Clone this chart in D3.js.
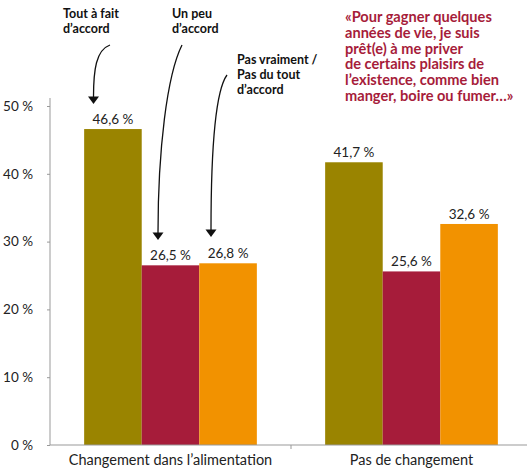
<!DOCTYPE html>
<html>
<head>
<meta charset="utf-8">
<script src="https://cdn.jsdelivr.net/npm/d3@7"></script>
<style>
  body { margin: 0; background: #fff; }
  svg { font-family: Lato, "Open Sans", sans-serif; }
</style>
</head>
<body>
<svg id="chart" width="527" height="470"></svg>
<script>
// data
var categories = ["Changement dans l\u2019alimentation", "Pas de changement"];
var series = ["Tout \u00e0 fait d\u2019accord", "Un peu d\u2019accord", "Pas vraiment / Pas du tout d\u2019accord"];
var toutAFait = [46.6, 41.7];
var unPeu = [26.5, 25.6];
var pasVraiment = [26.8, 32.6];
var yTicks = [0, 10, 20, 30, 40, 50];
var colors = ["#9a8400", "#a61c3a", "#f29200"];

var quote = [
  "\u00abPour gagner quelques",
  "ann\u00e9es de vie, je suis",
  "pr\u00eat(e) \u00e0 me priver",
  "de certains plaisirs de",
  "l\u2019existence, comme bien",
  "manger, boire ou fumer\u2026\u00bb"
];

var svg = d3.select("#chart");
var w = 527;

var values = [toutAFait, unPeu, pasVraiment];

var x = d3.scaleBand().domain(categories).range([50, 532]).padding(0);
var groupW = 172.7;
var xs = d3.scaleBand().domain(series).range([0, groupW]).padding(0);
var y = d3.scaleLinear().domain([0, 50]).range([445, 106]);

// y axis
var yAxis = d3.axisLeft(y).tickValues(yTicks).tickSize(3).tickPadding(14)
  .tickFormat(function (d) { return d + " %"; });
var gy = svg.append("g").attr("transform", "translate(50,0)").call(yAxis);
gy.select(".domain").attr("d", "M0,98V445").attr("stroke", "#999");
gy.selectAll(".tick line").attr("stroke", "#999");
gy.selectAll(".tick text").attr("font-size", "13.5px").attr("fill", "#222")
  .attr("font-family", "Lato, sans-serif");

// bars
var groups = svg.selectAll(".grp")
  .data(categories)
  .enter()
  .append("g")
  .attr("class", "grp")
  .attr("transform", function (d) {
    return "translate(" + (x(d) + (x.bandwidth() - groupW) / 2) + ",0)";
  });

groups.each(function (cat, ci) {
  var g = d3.select(this);
  series.forEach(function (s, si) {
    var v = values[si][ci];
    g.append("rect")
      .attr("x", xs(s))
      .attr("y", y(v))
      .attr("width", xs.bandwidth())
      .attr("height", y(0) - y(v))
      .attr("fill", colors[si]);
    g.append("text")
      .attr("x", xs(s) + xs.bandwidth() / 2)
      .attr("y", y(v) - 5)
      .attr("text-anchor", "middle")
      .attr("font-size", "13.5px")
      .attr("fill", "#222")
      .text(String(v).replace(".", ",") + " %");
  });
});

// x axis
svg.append("line")
  .attr("x1", 50).attr("x2", w).attr("y1", 445).attr("y2", 445)
  .attr("stroke", "#999");
svg.append("line")
  .attr("x1", x(categories[1])).attr("x2", x(categories[1]))
  .attr("y1", 445).attr("y2", 449)
  .attr("stroke", "#999");
svg.selectAll(".xlab")
  .data(categories)
  .enter()
  .append("text")
  .attr("class", "xlab")
  .attr("x", function (d) { return x(d) + x.bandwidth() / 2; })
  .attr("y", 465)
  .attr("text-anchor", "middle")
  .attr("font-size", "14.5px")
  .attr("fill", "#222")
  .text(function (d) { return d; });

// legend annotations with arrows
var notes = [
  { lines: ["Tout \u00e0 fait", "d\u2019accord"], lx: 63, ly: 18,
    path: "M110,45 C96,50 93.5,70 93.5,97", tip: [93.5, 104] },
  { lines: ["Un peu", "d\u2019accord"], lx: 172, ly: 18,
    path: "M182,45 C167,75 158,150 158,233", tip: [158, 240] },
  { lines: ["Pas vraiment /", "Pas du tout", "d\u2019accord"], lx: 237, ly: 64,
    path: "M227,75 C216,90 211,140 211,230", tip: [211, 237] }
];

notes.forEach(function (n) {
  var t = svg.append("text")
    .attr("font-size", "12.5px")
    .attr("font-weight", "bold")
    .attr("fill", "#111");
  n.lines.forEach(function (l, i) {
    t.append("tspan").attr("x", n.lx).attr("y", n.ly + i * 15).text(l);
  });
  svg.append("path")
    .attr("d", n.path)
    .attr("fill", "none")
    .attr("stroke", "#111")
    .attr("stroke-width", 1.3);
  var tx = n.tip[0], ty = n.tip[1];
  svg.append("path")
    .attr("d", "M" + (tx - 5.5) + "," + (ty - 7.5) + "L" + (tx + 5.5) + "," + (ty - 7.5) + "L" + tx + "," + ty + "Z")
    .attr("fill", "#111");
});

// quote
var q = svg.append("text")
  .attr("font-size", "14.6px")
  .attr("font-weight", "bold")
  .attr("fill", "#a61c3a");
quote.forEach(function (l, i) {
  q.append("tspan").attr("x", 345).attr("y", 22 + i * 15.8).text(l);
});
</script>
</body>
</html>
